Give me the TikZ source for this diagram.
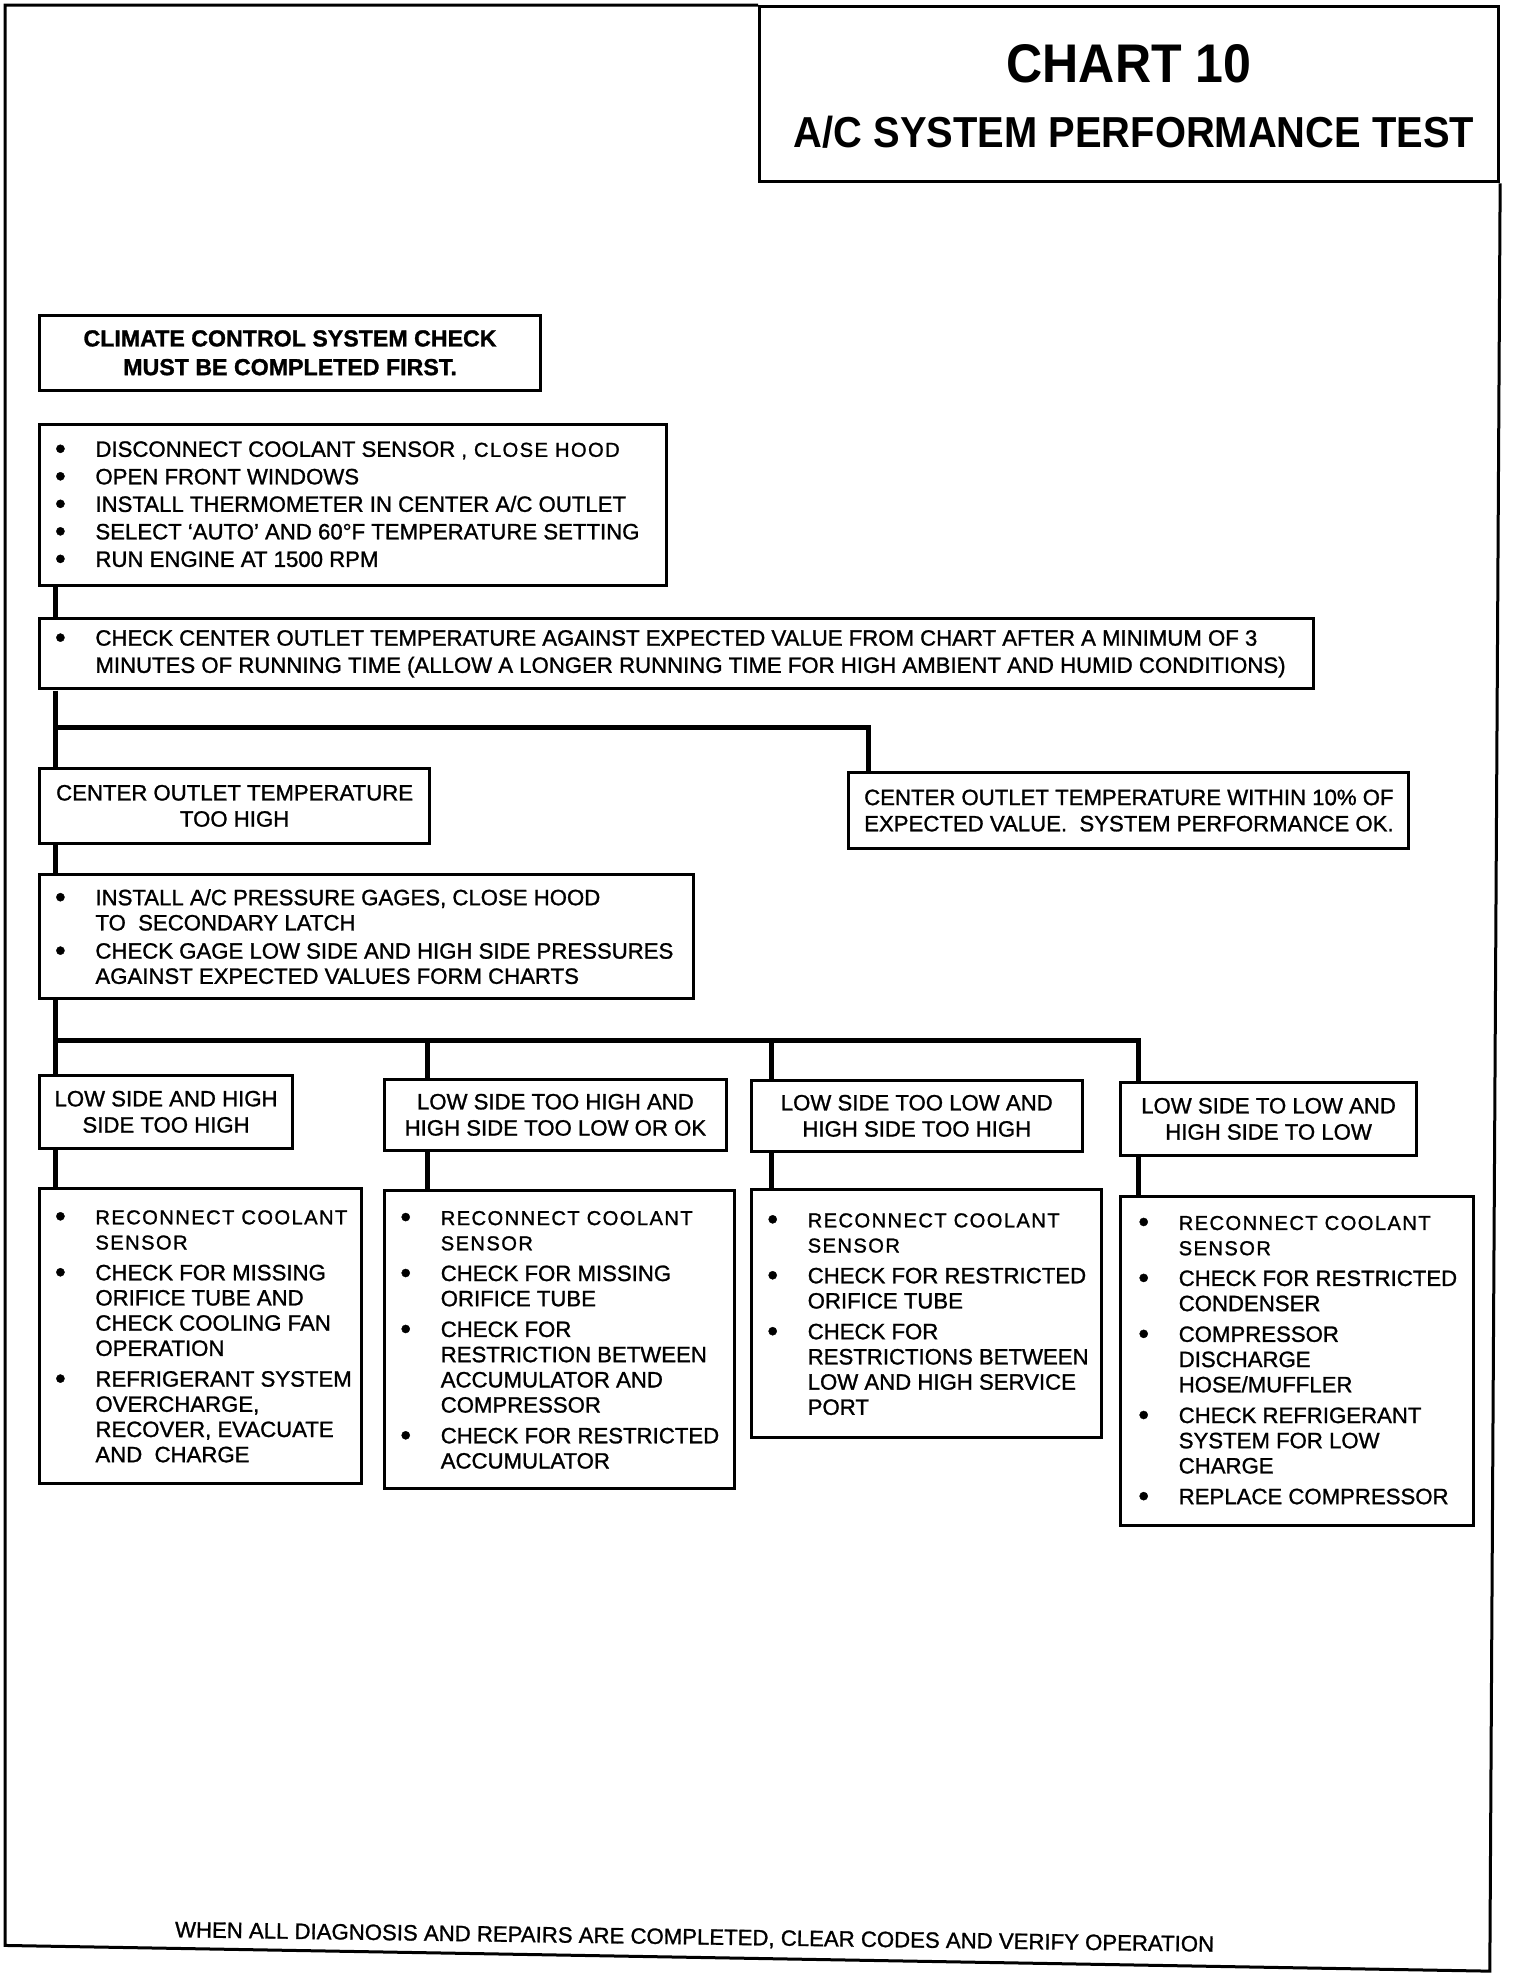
\documentclass[tikz,border=0pt]{standalone}
\usepackage{fontspec}
\setmainfont{Liberation Sans}[FakeBold=1.2]
\newfontfamily\titlefont{Liberation Sans}[FakeStretch=0.92]
\newfontfamily\spc{Liberation Sans}[LetterSpace=7,FakeBold=1.2]
\usetikzlibrary{calc}
\newlength\hangw
\setlength\hangw{40pt}
\newcommand\bu{\makebox[\hangw][l]{\raisebox{-2pt}{\fontsize{30}{25}\selectfont •}}}
\newcommand\cn{\hspace*{\hangw}}
\newcommand\spaced[1]{{\spc\fontsize{20}{25}\selectfont #1}}
\tikzset{
  box/.style={draw, line width=3pt, anchor=north west, inner sep=0pt},
  cbox/.style={box, align=center, font=\fontsize{22}{26}\selectfont},
  txt/.style={anchor=west, inner sep=0pt, align=left, font=\fontsize{22}{25}\selectfont},
  wire/.style={line width=5pt, line join=miter},
  frame/.style={line width=3pt, line join=miter}
}
\begin{document}
\begin{tikzpicture}[x=1pt, y=-1pt]
\useasboundingbox (0,0) rectangle (1520,1976);
\begin{scope}[scale=1.008, transform shape]

% outer frame and title
\node[box, minimum width=733, minimum height=174] (T) at (752,5) {};
\draw[frame] (T.north west) -- (5,5) -- (5,1930) -- (1478,1955.5) -- (T.south east);
\node[anchor=base, inner sep=0pt, font=\titlefont\bfseries\fontsize{54}{60}\selectfont] (t1) at (1120,82) {CHART 10};
\node[anchor=base, inner sep=0pt, font=\titlefont\bfseries\fontsize{43}{50}\selectfont] (t2) at (1125,146) {A/C SYSTEM PERFORMANCE TEST};

% first boxes
\node[cbox, minimum width=497.5, minimum height=75, font=\bfseries\fontsize{23}{28.5}\selectfont] (A) at (37.5,311)
  {CLIMATE CONTROL SYSTEM CHECK\\MUST BE COMPLETED FIRST.};

\node[box, minimum width=622.5, minimum height=159] (B) at (37.5,420) {};
\node[txt, font=\fontsize{22}{27.3}\selectfont] (Bt) at ($(B.west)+(17,0)$)
  {\bu DISCONNECT COOLANT SENSOR \spaced{, CLOSE HOOD}\\
   \bu OPEN FRONT WINDOWS\\
   \bu INSTALL THERMOMETER IN CENTER A/C OUTLET\\
   \bu SELECT ‘AUTO’ AND 60°F TEMPERATURE SETTING\\
   \bu RUN ENGINE AT 1500 RPM};

\node[box, minimum width=1264.5, minimum height=70] (C) at (37.5,612) {};
\node[txt, font=\fontsize{22}{27}\selectfont] (Ct) at ($(C.west)+(17,0)$)
  {\bu CHECK CENTER OUTLET TEMPERATURE AGAINST EXPECTED VALUE FROM CHART AFTER A MINIMUM OF 3\\
   \cn MINUTES OF RUNNING TIME (ALLOW A LONGER RUNNING TIME FOR HIGH AMBIENT AND HUMID CONDITIONS)};

\node[cbox, minimum width=387.5, minimum height=74] (D) at (37.5,761)
  {CENTER OUTLET TEMPERATURE\\TOO HIGH};

\node[box, minimum width=556, minimum height=75] (E) at (840,765) {};
\node[txt, font=\fontsize{22}{26}\selectfont] (Et) at ($(E.west)+(17,0)$)
  {CENTER OUTLET TEMPERATURE WITHIN 10\% OF\\
   EXPECTED VALUE.\ \ SYSTEM PERFORMANCE OK.};

\node[box, minimum width=648.5, minimum height=123] (F) at (37.5,866) {};
\node[txt] (Ft) at ($(F.west)+(17,0)$)
  {\bu INSTALL A/C PRESSURE GAGES, CLOSE HOOD\\
   \cn TO\ \ SECONDARY LATCH\\[3pt]
   \bu CHECK GAGE LOW SIDE AND HIGH SIDE PRESSURES\\
   \cn AGAINST EXPECTED VALUES FORM CHARTS};

% condition boxes
\node[cbox, minimum width=251.5, minimum height=73] (G1) at (37.5,1065) {LOW SIDE AND HIGH\\SIDE TOO HIGH};
\node[cbox, minimum width=339, minimum height=71] (G2) at (380,1069) {LOW SIDE TOO HIGH AND\\HIGH SIDE TOO LOW OR OK};
\node[cbox, minimum width=328, minimum height=71] (G3) at (744,1070) {LOW SIDE TOO LOW AND\\HIGH SIDE TOO HIGH};
\node[cbox, minimum width=294, minimum height=73] (G4) at (1110,1072) {LOW SIDE TO LOW AND\\HIGH SIDE TO LOW};

% action boxes
\node[box, minimum width=320, minimum height=292] (H1) at (37.5,1178) {};
\node[txt] (H1t) at ($(H1.west)+(17,0)$)
  {\bu\spaced{RECONNECT COOLANT}\\
   \cn\spaced{SENSOR}\\[5.5pt]
   \bu CHECK FOR MISSING\\
   \cn ORIFICE TUBE AND\\
   \cn CHECK COOLING FAN\\
   \cn OPERATION\\[5.5pt]
   \bu REFRIGERANT SYSTEM\\
   \cn OVERCHARGE,\\
   \cn RECOVER, EVACUATE\\
   \cn AND\ \ CHARGE};

\node[box, minimum width=347.5, minimum height=295] (H2) at (380,1180) {};
\node[txt] (H2t) at ($(H2.west)+(17,0)$)
  {\bu\spaced{RECONNECT COOLANT}\\
   \cn\spaced{SENSOR}\\[5.5pt]
   \bu CHECK FOR MISSING\\
   \cn ORIFICE TUBE\\[5.5pt]
   \bu CHECK FOR\\
   \cn RESTRICTION BETWEEN\\
   \cn ACCUMULATOR AND\\
   \cn COMPRESSOR\\[5.5pt]
   \bu CHECK FOR RESTRICTED\\
   \cn ACCUMULATOR};

\node[box, minimum width=347, minimum height=246] (H3) at (744,1179) {};
\node[txt] (H3t) at ($(H3.west)+(17,0)$)
  {\bu\spaced{RECONNECT COOLANT}\\
   \cn\spaced{SENSOR}\\[5.5pt]
   \bu CHECK FOR RESTRICTED\\
   \cn ORIFICE TUBE\\[5.5pt]
   \bu CHECK FOR\\
   \cn RESTRICTIONS BETWEEN\\
   \cn LOW AND HIGH SERVICE\\
   \cn PORT};

\node[box, minimum width=350, minimum height=327] (H4) at (1110,1185) {};
\node[txt] (H4t) at ($(H4.west)+(19,0)$)
  {\bu\spaced{RECONNECT COOLANT}\\
   \cn\spaced{SENSOR}\\[5.5pt]
   \bu CHECK FOR RESTRICTED\\
   \cn CONDENSER\\[5.5pt]
   \bu COMPRESSOR\\
   \cn DISCHARGE\\
   \cn HOSE/MUFFLER\\[5.5pt]
   \bu CHECK REFRIGERANT\\
   \cn SYSTEM FOR LOW\\
   \cn CHARGE\\[5.5pt]
   \bu REPLACE COMPRESSOR};

% connectors
\coordinate (s0) at (55,0);
\coordinate (j1) at (55,722);
\coordinate (e1) at (861,722);
\coordinate (j2) at (55,1032);
\coordinate (c2) at (424,1032);
\coordinate (c3) at (765,1032);
\coordinate (c4) at (1129,1032);
\draw[wire] (B.south -| s0) -- (C.north -| s0);
\draw[wire] (C.south -| s0) -- (D.north -| s0);
\draw[wire] (j1) -| (E.north -| e1);
\draw[wire] (D.south -| s0) -- (F.north -| s0);
\draw[wire] (F.south -| s0) -- (G1.north -| s0);
\draw[wire] (j2) -| (G4.north -| c4);
\draw[wire] (c2) -- (G2.north -| c2);
\draw[wire] (c3) -- (G3.north -| c3);
\draw[wire] (G1.south -| s0) -- (H1.north -| s0);
\draw[wire] (G2.south -| c2) -- (H2.north -| c2);
\draw[wire] (G3.south -| c3) -- (H3.north -| c3);
\draw[wire] (G4.south -| c4) -- (H4.north -| c4);

% footer
\node[anchor=base, inner sep=0pt, rotate=-0.8, font=\fontsize{22}{26}\selectfont] (ft) at (689,1929)
  {WHEN ALL DIAGNOSIS AND REPAIRS ARE COMPLETED, CLEAR CODES AND VERIFY OPERATION};
\end{scope}
\end{tikzpicture}
\end{document}
